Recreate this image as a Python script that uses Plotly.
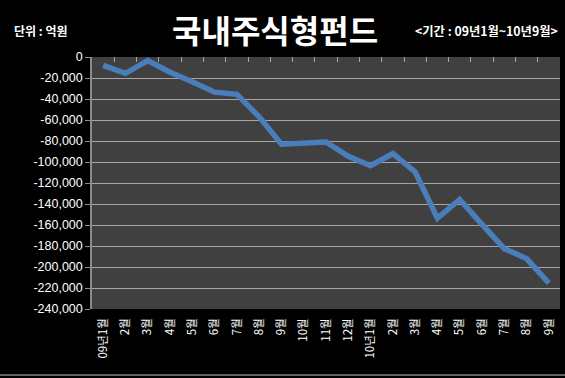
import plotly.graph_objects as go

months = ["09년1월", "2월", "3월", "4월", "5월", "6월", "7월", "8월", "9월", "10월",
          "11월", "12월", "10년1월", "2월", "3월", "4월", "5월", "6월", "7월", "8월", "9월"]
flows = [-8000, -15500, -3500, -14500, -23500, -33500, -35500, -57000, -83000, -82000,
         -81000, -94500, -103500, -92000, -109500, -153500, -135700, -159400, -182500, -192000,
         -215400]
y_ticks = list(range(0, -240001, -20000))
y_tick_text = [f"{v:,}" for v in y_ticks]

idx = list(range(len(months)))
boundaries = [i - 0.5 for i in range(len(months) + 1)]
x_range = [-0.5, len(months) - 0.5]

fig = go.Figure()
fig.add_trace(go.Scatter(x=idx, y=flows, mode="lines",
                         line=dict(color="#4a7ebb", width=5.5), hoverinfo="skip",
                         showlegend=False))
fig.add_trace(go.Scatter(x=idx, y=flows, mode="lines", xaxis="x2",
                         line=dict(color="rgba(0,0,0,0)", width=0), hoverinfo="skip",
                         showlegend=False))

fig.update_layout(
    width=565, height=378,
    margin=dict(l=92, r=5, t=57, b=69),
    paper_bgcolor="#000000", plot_bgcolor="#404040",
    font=dict(family="Noto Sans CJK KR", color="#ffffff"),
    xaxis=dict(tickmode="array", tickvals=idx, ticktext=months,
               tickangle=-90, tickfont=dict(size=11.5, family="Noto Sans CJK KR", color="#ffffff"),
               showgrid=False, zeroline=False, showline=False, ticks="",
               ticklabelstandoff=6, range=x_range),
    xaxis2=dict(overlaying="x", side="top", anchor="y", range=x_range,
                tickmode="array", tickvals=boundaries,
                showticklabels=False, ticks="inside", ticklen=5, tickcolor="#a6a6a6",
                tickwidth=1, showgrid=False, zeroline=False, showline=False),
    yaxis=dict(range=[-240000, 0], tickmode="array", tickvals=y_ticks, ticktext=y_tick_text,
               tickfont=dict(size=12.5, family="Liberation Sans", color="#ffffff"),
               showgrid=True, gridcolor="#a6a6a6", gridwidth=1.3,
               zeroline=False, showline=True, linecolor="#8c8c8c", linewidth=1.5,
               ticks="outside", ticklen=5, tickcolor="#8c8c8c"),
    annotations=[
        dict(text="<b>국내주식형펀드</b>", x=0.39, y=1.11, xref="paper", yref="paper",
             xanchor="center", yanchor="middle", showarrow=False,
             font=dict(size=32, family="Noto Sans CJK KR", color="#ffffff")),
        dict(text="<b>단위 : 억원</b>", x=-0.172, y=1.105, xref="paper", yref="paper",
             xanchor="left", yanchor="middle", showarrow=False,
             font=dict(size=12, family="Noto Sans CJK KR", color="#ffffff")),
        dict(text="<b>&lt;기간 : 09년1월~10년9월&gt;</b>", x=1.0, y=1.105, xref="paper", yref="paper",
             xanchor="right", yanchor="middle", showarrow=False,
             font=dict(size=12.3, family="Noto Sans CJK KR", color="#ffffff")),
    ],
    shapes=[dict(type="line", xref="paper", yref="paper", x0=-0.2, x1=1.02, y0=-0.262, y1=-0.262,
                 line=dict(color="#c0c0c0", width=1))],
)

fig.write_html("out.html", config={"displayModeBar": False},
               post_script="document.body.style.margin='0';document.body.style.background='#000';")
